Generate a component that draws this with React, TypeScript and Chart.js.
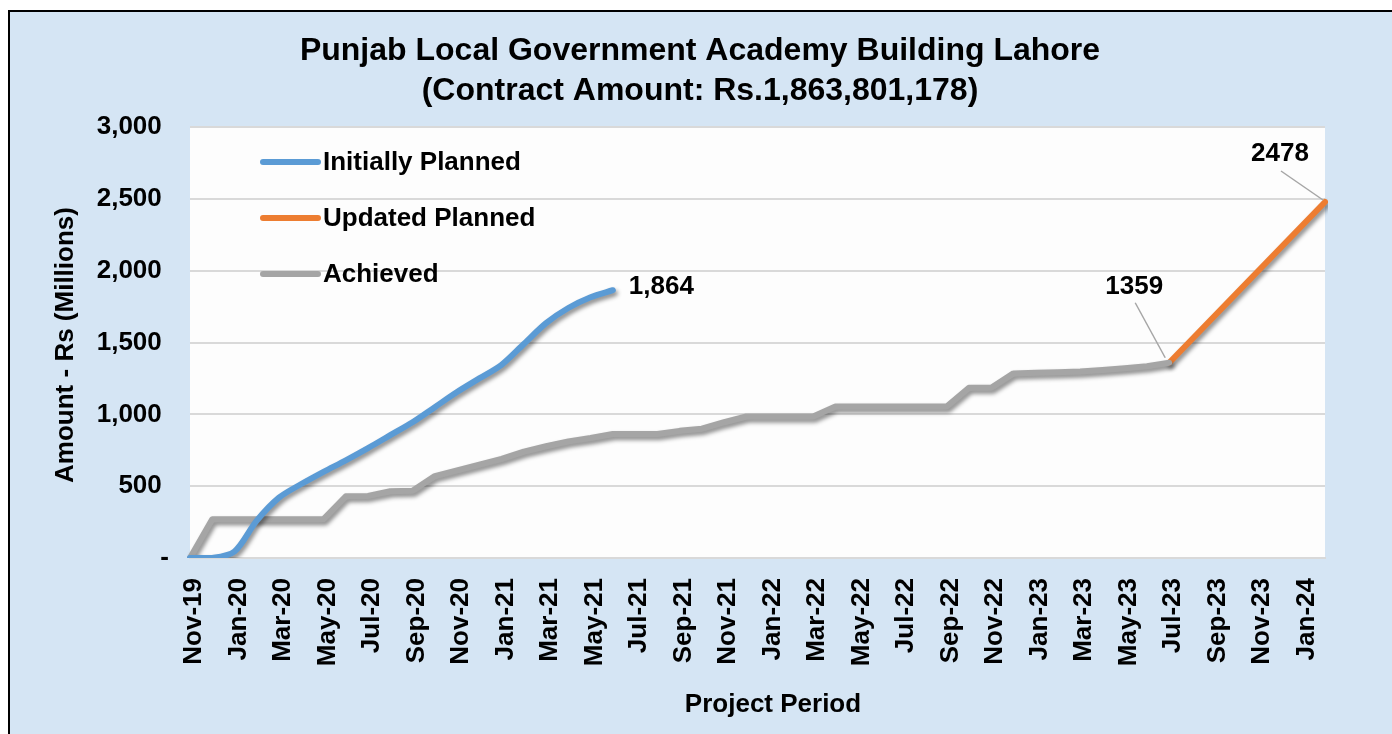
import React, { useEffect, useRef } from "react";
import { Chart, registerables } from "chart.js";

Chart.register(...registerables);

const months: string[] = [
  "Nov-19", "Dec-19", "Jan-20", "Feb-20", "Mar-20", "Apr-20", "May-20", "Jun-20", "Jul-20", "Aug-20",
  "Sep-20", "Oct-20", "Nov-20", "Dec-20", "Jan-21", "Feb-21", "Mar-21", "Apr-21", "May-21", "Jun-21",
  "Jul-21", "Aug-21", "Sep-21", "Oct-21", "Nov-21", "Dec-21", "Jan-22", "Feb-22", "Mar-22", "Apr-22",
  "May-22", "Jun-22", "Jul-22", "Aug-22", "Sep-22", "Oct-22", "Nov-22", "Dec-22", "Jan-23", "Feb-23",
  "Mar-23", "Apr-23", "May-23", "Jun-23", "Jul-23", "Aug-23", "Sep-23", "Oct-23", "Nov-23", "Dec-23",
  "Jan-24", "Feb-24",
];

const initiallyPlanned: (number | null)[] = [
  0, 0, 45, 260, 420, 515, 600, 680, 765, 855,
  945, 1050, 1155, 1250, 1345, 1490, 1635, 1740, 1815, 1864,
  null, null, null, null, null, null, null, null, null, null,
  null, null, null, null, null, null, null, null, null, null,
  null, null, null, null, null, null, null, null, null, null,
  null, null,
];

const achieved: (number | null)[] = [
  0, 270, 270, 270, 270, 270, 270, 430, 432, 465,
  468, 570, 610, 650, 690, 740, 778, 812, 835, 863,
  863, 863, 885, 900, 945, 985, 985, 985, 985, 1055,
  1055, 1055, 1055, 1055, 1055, 1185, 1185, 1285, 1290, 1293,
  1298, 1308, 1320, 1335, 1359, null, null, null, null, null,
  null, null,
];

const updatedPlanned: (number | null)[] = [
  null, null, null, null, null, null, null, null, null, null,
  null, null, null, null, null, null, null, null, null, null,
  null, null, null, null, null, null, null, null, null, null,
  null, null, null, null, null, null, null, null, null, null,
  null, null, null, null, 1359, null, null, null, null, null,
  null, 2478,
];

const seriesNames = ["Initially Planned", "Updated Planned", "Achieved"];
const seriesColors = ["#5B9BD5", "#ED7D31", "#A5A5A5"];
const yTicks = [0, 500, 1000, 1500, 2000, 2500, 3000];

const FONT = "'Liberation Sans', Arial, sans-serif";

const decorPlugin = {
  id: "decor",
  beforeDraw(chart: any) {
    const { ctx, width, height, chartArea } = chart;
    ctx.save();
    ctx.fillStyle = "#ffffff";
    ctx.fillRect(0, 0, width, height);
    ctx.fillStyle = "#d5e5f4";
    ctx.fillRect(8, 10, width - 8, height - 10);
    ctx.strokeStyle = "#000000";
    ctx.lineWidth = 2;
    ctx.beginPath();
    ctx.moveTo(9, height + 5);
    ctx.lineTo(9, 11);
    ctx.lineTo(width + 5, 11);
    ctx.stroke();
    ctx.fillStyle = "#fdfdfd";
    ctx.fillRect(chartArea.left, chartArea.top - 1, chartArea.right - chartArea.left, chartArea.bottom - chartArea.top + 1);
    ctx.restore();
  },
  beforeDatasetDraw(chart: any) {
    const ctx = chart.ctx;
    ctx.save();
    ctx.shadowColor = "rgba(0,0,0,0.45)";
    ctx.shadowBlur = 4;
    ctx.shadowOffsetX = 2;
    ctx.shadowOffsetY = 3;
  },
  afterDatasetDraw(chart: any) {
    chart.ctx.restore();
  },
  afterDraw(chart: any) {
    const { ctx, chartArea } = chart;
    ctx.save();
    ctx.fillStyle = "#000000";
    // Title
    ctx.font = `bold 32px ${FONT}`;
    ctx.textAlign = "center";
    ctx.textBaseline = "alphabetic";
    ctx.fillText("Punjab Local Government Academy Building Lahore", 700, 60);
    ctx.fillText("(Contract Amount: Rs.1,863,801,178)", 700, 100);

    // Axis titles
    ctx.font = `bold 26px ${FONT}`;
    ctx.fillText("Project Period", 773, 712);
    ctx.save();
    ctx.translate(73, 345);
    ctx.rotate(-Math.PI / 2);
    ctx.fillText("Amount - Rs (Millions)", 0, 0);
    ctx.restore();

    // Legend
    const lx = chartArea.left + 73;
    const ly = chartArea.top + 35;
    for (let i = 0; i < seriesNames.length; i++) {
      const y = ly + i * 56;
      ctx.strokeStyle = seriesColors[i];
      ctx.lineWidth = 6;
      ctx.lineCap = "round";
      ctx.beginPath();
      ctx.moveTo(lx, y);
      ctx.lineTo(lx + 55, y);
      ctx.stroke();
      ctx.fillStyle = "#000000";
      ctx.textAlign = "left";
      ctx.textBaseline = "middle";
      ctx.font = `bold 26px ${FONT}`;
      ctx.fillText(seriesNames[i], lx + 60, y + 1);
    }

    // Data labels
    const pBlue = chart.getDatasetMeta(0).data[19];
    const pGray = chart.getDatasetMeta(1).data[44];
    const pOrange = chart.getDatasetMeta(2).data[51];
    ctx.font = `bold 26px ${FONT}`;
    ctx.textBaseline = "middle";
    if (pBlue) {
      ctx.textAlign = "left";
      ctx.fillText("1,864", pBlue.x + 16, pBlue.y - 3);
    }
    ctx.strokeStyle = "#a6a6a6";
    ctx.lineWidth = 1.5;
    ctx.lineCap = "butt";
    if (pGray) {
      ctx.textAlign = "center";
      ctx.fillText("1359", pGray.x - 35, pGray.y - 76);
      ctx.beginPath();
      ctx.moveTo(pGray.x - 34, pGray.y - 60);
      ctx.lineTo(pGray.x - 4, pGray.y - 5);
      ctx.stroke();
    }
    if (pOrange) {
      ctx.textAlign = "center";
      ctx.fillText("2478", pOrange.x - 45, pOrange.y - 48);
      ctx.beginPath();
      ctx.moveTo(pOrange.x - 44, pOrange.y - 31);
      ctx.lineTo(pOrange.x - 2, pOrange.y - 2);
      ctx.stroke();
    }
    ctx.restore();
  },
};

export default function App() {
  const canvasRef = useRef<HTMLCanvasElement | null>(null);

  useEffect(() => {
    if (!canvasRef.current) return;
    const chart = new Chart(canvasRef.current, {
      type: "line",
      data: {
        labels: months,
        datasets: [
          {
            label: seriesNames[0],
            data: initiallyPlanned,
            borderColor: seriesColors[0],
            borderWidth: 6,
            tension: 0.3,
            pointRadius: 0,
            borderCapStyle: "round",
            borderJoinStyle: "round",
            spanGaps: false,
            order: 0,
          },
          {
            label: seriesNames[2],
            data: achieved,
            borderColor: seriesColors[2],
            borderWidth: 6,
            tension: 0,
            pointRadius: 0,
            borderCapStyle: "round",
            borderJoinStyle: "round",
            order: 1,
          },
          {
            label: seriesNames[1],
            data: updatedPlanned,
            borderColor: seriesColors[1],
            borderWidth: 6,
            tension: 0,
            pointRadius: 0,
            borderCapStyle: "round",
            borderJoinStyle: "round",
            spanGaps: true,
            order: 2,
          },
        ],
      },
      options: {
        animation: false,
        responsive: false,
        devicePixelRatio: 1,
        layout: { padding: { top: 127, right: 67, left: 0, bottom: 0 } },
        plugins: {
          legend: { display: false },
          title: { display: false },
          tooltip: { enabled: false },
        },
        scales: {
          x: {
            type: "category",
            offset: false,
            grid: { display: false },
            border: { display: true, color: "#d9d9d9", width: 2 },
            ticks: {
              autoSkip: false,
              maxRotation: 90,
              minRotation: 90,
              padding: 12,
              labelOffset: 4,
              color: "#000000",
              font: { family: FONT, size: 26, weight: "bold" },
              callback: (_v: any, idx: number) => (idx % 2 === 0 ? months[idx] : ""),
            },
            afterFit: (scale: any) => {
              scale.height = 176;
            },
          },
          y: {
            min: 0,
            max: 3000,
            afterBuildTicks: (scale: any) => {
              scale.ticks = yTicks.map((v) => ({ value: v }));
            },
            grid: { color: "#d9d9d9", lineWidth: 2, drawTicks: false },
            border: { display: false },
            ticks: {
              padding: 21,
              color: "#000000",
              font: { family: FONT, size: 26, weight: "bold" },
              callback: (v: any) => (Number(v) === 0 ? "-" : Number(v).toLocaleString("en-US") + " "),
            },
            afterFit: (scale: any) => {
              scale.width = 190;
            },
          },
        },
      },
      plugins: [decorPlugin],
    });
    return () => chart.destroy();
  }, []);

  return (
    <div style={{ position: "absolute", left: 0, top: 0, width: 1392, height: 734 }}>
      <canvas ref={canvasRef} width={1392} height={734} />
    </div>
  );
}
